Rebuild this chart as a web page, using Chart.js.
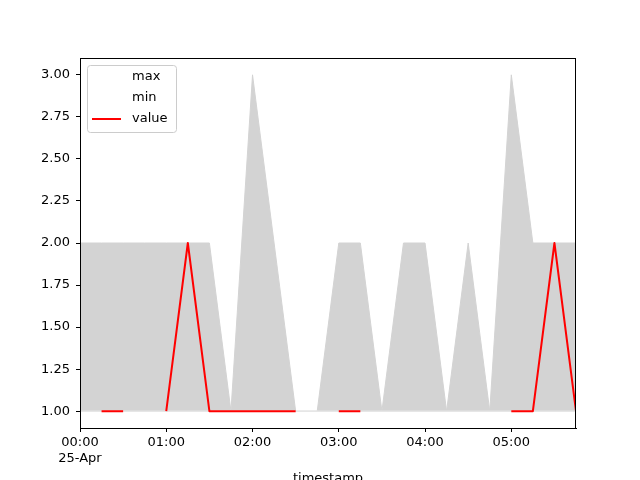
<!DOCTYPE html>
<html>
<head>
<meta charset="utf-8">
<script src="https://cdn.jsdelivr.net/npm/chart.js@4"></script>
<style>
  body { margin: 0; background: #fff; }
  #chart { display: block; }
</style>
</head>
<body>
<canvas id="chart" width="640" height="480"></canvas>
<script>
// relevés toutes les 15 minutes, le 25 avril
const times = ['00:00','00:15','00:30','00:45','01:00','01:15','01:30','01:45',
               '02:00','02:15','02:30','02:45','03:00','03:15','03:30','03:45',
               '04:00','04:15','04:30','04:45','05:00','05:15','05:30','05:45'];
const maxValues = [2,2,2,2,2,2,2,1, 3,2,1,1,2,2,1,2, 2,1,2,1,3,2,2,2];
const minValues = [1,1,1,1,1,1,1,1, 1,1,1,1,1,1,1,1, 1,1,1,1,1,1,1,1];
const values    = [null,1,1,null,1,2,1,1, 1,1,1,null,1,1,null,null,
                   null,null,null,null,1,1,2,1];
const dayLabel = '25-Apr';
const yTicks = [1.00, 1.25, 1.50, 1.75, 2.00, 2.25, 2.50, 2.75, 3.00];

// minutes depuis minuit
const minutes = times.map(t => {
  const [h, m] = t.split(':').map(Number);
  return h * 60 + m;
});
const toPoints = arr => arr.map((v, i) => ({ x: minutes[i], y: v }));

const FONT = { family: 'DejaVu Sans', size: 13 };

// légende dessinée dans la zone du graphique (comme matplotlib)
const insideLegend = {
  id: 'insideLegend',
  afterDraw(chart) {
    const ctx = chart.ctx;
    const area = chart.chartArea;
    const x = area.left + 7, y = area.top + 7, w = 89, h = 67;
    ctx.save();
    ctx.beginPath();
    ctx.roundRect(x + 0.5, y + 0.5, w, h, 3);
    ctx.fillStyle = 'rgba(255,255,255,0.8)';
    ctx.fill();
    ctx.strokeStyle = '#cccccc';
    ctx.lineWidth = 1;
    ctx.stroke();
    ctx.font = '13px "DejaVu Sans"';
    ctx.textBaseline = 'middle';
    chart.data.datasets.forEach((ds, i) => {
      const cy = y + 12 + i * 21;
      ctx.strokeStyle = ds.legendColor;
      ctx.lineWidth = 2;
      ctx.beginPath();
      ctx.moveTo(x + 5, cy);
      ctx.lineTo(x + 34, cy);
      ctx.stroke();
      ctx.fillStyle = '#000';
      ctx.fillText(ds.label, x + 45, cy);
    });
    // cadre complet
    ctx.strokeStyle = '#000';
    ctx.lineWidth = 1;
    ctx.strokeRect(area.left + 0.5, area.top + 0.5, area.right - area.left - 1, area.bottom - area.top);
    ctx.restore();
  }
};

new Chart(document.getElementById('chart'), {
  type: 'line',
  data: {
    datasets: [
      {
        label: 'max',
        data: toPoints(maxValues),
        borderColor: '#d3d3d3',
        borderWidth: 1,
        backgroundColor: '#d3d3d3',
        fill: '+1',
        legendColor: '#ffffff',
        pointRadius: 0,
        tension: 0,
        order: 2
      },
      {
        label: 'min',
        data: toPoints(minValues),
        borderColor: '#e6e6e6',
        borderWidth: 1.5,
        fill: false,
        legendColor: '#ffffff',
        pointRadius: 0,
        tension: 0,
        order: 1
      },
      {
        label: 'value',
        data: toPoints(values),
        borderColor: '#ff0000',
        borderWidth: 2,
        borderJoinStyle: 'round',
        borderCapStyle: 'butt',
        fill: false,
        legendColor: '#ff0000',
        pointRadius: 0,
        spanGaps: false,
        tension: 0,
        order: 0
      }
    ]
  },
  options: {
    responsive: false,
    animation: false,
    layout: { padding: { left: 0, top: 58, right: 64, bottom: 0 } },
    plugins: {
      legend: { display: false },
      tooltip: { enabled: false },
      filler: { propagate: false, drawTime: 'beforeDatasetsDraw' }
    },
    scales: {
      x: {
        type: 'linear',
        min: 0,
        max: 345,
        afterFit(scale) { scale.height = 52; },
        grid: { drawOnChartArea: false, tickLength: 4, color: '#000' },
        border: { color: '#000', width: 1 },
        ticks: {
          stepSize: 60,
          includeBounds: false,
          maxRotation: 0,
          padding: 3,
          color: '#000',
          font: FONT,
          callback(v) {
            const h = String(Math.floor(v / 60)).padStart(2, '0');
            const m = String(v % 60).padStart(2, '0');
            return v === 0 ? [h + ':' + m, dayLabel] : h + ':' + m;
          }
        },
        title: {
          display: true,
          text: 'timestamp',
          color: '#000',
          font: FONT,
          padding: { top: 0, bottom: -6 }
        }
      },
      y: {
        min: 0.9,
        max: 3.1,
        afterFit(scale) { scale.width = 80; },
        afterBuildTicks(scale) { scale.ticks = yTicks.map(v => ({ value: v })); },
        grid: { drawOnChartArea: false, tickLength: 4, color: '#000' },
        border: { color: '#000', width: 1 },
        ticks: {
          padding: 6,
          color: '#000',
          font: FONT,
          callback: v => v.toFixed(2)
        }
      }
    }
  },
  plugins: [insideLegend]
});
</script>
</body>
</html>
